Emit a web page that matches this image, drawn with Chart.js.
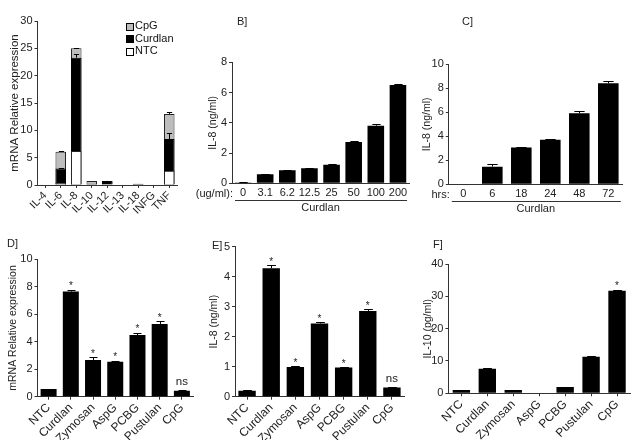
<!DOCTYPE html>
<html>
<head>
<meta charset="utf-8">
<script src="https://cdn.jsdelivr.net/npm/chart.js@4.4.1/dist/chart.umd.min.js"></script>
<style>
  body { margin: 0; background: #fff; }
  #wrap { position: relative; width: 638px; height: 440px; overflow: hidden; background: #fff; }
  canvas { position: absolute; }
</style>
</head>
<body>
<div id="wrap">
  <canvas id="chartA" width="190" height="225" style="left:0px;top:0px"></canvas>
  <canvas id="chartB" width="230" height="225" style="left:185px;top:0px"></canvas>
  <canvas id="chartC" width="223" height="225" style="left:415px;top:0px"></canvas>
  <canvas id="chartD" width="210" height="215" style="left:0px;top:225px"></canvas>
  <canvas id="chartE" width="220" height="215" style="left:205px;top:225px"></canvas>
  <canvas id="chartF" width="220" height="215" style="left:418px;top:225px"></canvas>
</div>
<script>
// ---- data ----
// A] cytokine mRNA, overlapping bars (NTC in front, CpG behind)
const cytokines = ['IL-4', 'IL-6', 'IL-8', 'IL-10', 'IL-12', 'IL-13', 'IL-18', 'INFG', 'TNF'];
const mrnaCpG = [0, 6.1, 25.0, 0.75, 0.7, 0, 0.2, 0, 13.0];
const mrnaCpGErr = [0, 0.2, 0.15, 0, 0, 0, 0, 0, 0.3];
const mrnaCurdlan = [0, 3.0, 23.3, 0.25, 0.75, 0, 0.25, 0, 8.4];
const mrnaCurdlanErr = [0, 0.2, 0.6, 0, 0.05, 0, 0, 0, 1.2];
const mrnaNTC = [0, 0.4, 6.2, 0.1, 0.1, 0, 0.05, 0, 2.6];

// B] IL-8 vs curdlan dose
const doses = ['0', '3.1', '6.2', '12.5', '25', '50', '100', '200'];
const il8Dose = [0.05, 0.6, 0.86, 0.99, 1.23, 2.73, 3.81, 6.5];
const il8DoseErr = [0.02, 0.03, 0.03, 0.04, 0.04, 0.06, 0.1, 0.05];

// C] IL-8 vs time
const hours = ['0', '6', '18', '24', '48', '72'];
const il8Time = [0, 1.47, 3.06, 3.72, 5.92, 8.42];
const il8TimeErr = [0, 0.2, 0.08, 0.05, 0.22, 0.16];

// D-F] stimuli
const stimuli = ['NTC', 'Curdlan', 'Zymosan', 'AspG', 'PCBG', 'Pustulan', 'CpG'];
const mrnaStim = [0.56, 7.65, 2.67, 2.55, 4.49, 5.29, 0.44];
const mrnaStimErr = [0.03, 0.15, 0.19, 0.05, 0.17, 0.21, 0.03];
const mrnaStimSig = ['', '*', '*', '*', '*', '*', 'ns'];
const il8Stim = [0.2, 4.28, 0.99, 2.44, 0.97, 2.86, 0.31];
const il8StimErr = [0.01, 0.11, 0.02, 0.05, 0.02, 0.06, 0.01];
const il8StimSig = ['', '*', '*', '*', '*', '*', 'ns'];
const il10Stim = [1.0, 7.6, 1.0, 0, 1.96, 11.3, 31.75];
const il10StimErr = [0.05, 0.2, 0.05, 0, 0.05, 0.2, 0.25];
const il10StimSig = ['', '', '', '', '', '', '*'];

const FONT = 'Arial, "Liberation Sans", sans-serif';
const AXIS = '#333';
Chart.defaults.font.family = FONT;
Chart.defaults.color = '#222';
Chart.defaults.animation = false;
Chart.defaults.plugins.legend.display = false;
Chart.defaults.plugins.tooltip.enabled = false;

// error bars + significance marks, drawn from the y scale
const errorBars = {
  id: 'errorBars',
  afterDatasetsDraw(chart) {
    const ctx = chart.ctx, ys = chart.scales.y;
    chart.data.datasets.forEach((ds, i) => {
      const meta = chart.getDatasetMeta(i);
      meta.data.forEach((bar, j) => {
        let top = bar.y;
        const e = ds.err ? ds.err[j] : 0;
        if (e) {
          top = ys.getPixelForValue(ds.data[j] + e);
          const x = Math.round(bar.x) + 0.5;
          const w = bar.width * 0.25;
          ctx.save();
          ctx.strokeStyle = '#000';
          ctx.lineWidth = 1;
          ctx.beginPath();
          ctx.moveTo(x, bar.y);
          ctx.lineTo(x, Math.round(top) + 0.5);
          ctx.moveTo(x - w, Math.round(top) + 0.5);
          ctx.lineTo(x + w, Math.round(top) + 0.5);
          ctx.stroke();
          ctx.restore();
        }
        const s = ds.sig ? ds.sig[j] : '';
        if (s) {
          ctx.save();
          ctx.fillStyle = '#222';
          ctx.textAlign = 'center';
          ctx.textBaseline = 'alphabetic';
          if (s === '*') {
            ctx.font = '10px ' + FONT;
            ctx.fillText(s, bar.x, top - 0.5);
          } else {
            ctx.font = '11.5px ' + FONT;
            ctx.fillText(s, bar.x, top - 5);
          }
          ctx.restore();
        }
      });
    });
  }
};

// panel letters, unit prefix, bracket line, inset legend
const extras = {
  id: 'extras',
  afterDraw(chart, args, opts) {
    const ctx = chart.ctx, area = chart.chartArea;
    ctx.save();
    ctx.fillStyle = '#222';
    ctx.strokeStyle = '#333';
    if (opts.panel) {
      ctx.font = '11px ' + FONT;
      ctx.textAlign = 'left';
      ctx.textBaseline = 'middle';
      ctx.fillText(opts.panel.text, opts.panel.x, opts.panel.y);
    }
    if (opts.unit) {
      ctx.font = '11px ' + FONT;
      ctx.textAlign = 'right';
      ctx.textBaseline = 'middle';
      ctx.fillText(opts.unit, area.left + 1, area.bottom + 10.5);
    }
    if (opts.bracket) {
      ctx.lineWidth = 1;
      ctx.beginPath();
      const y = Math.round(area.bottom + 16.5) + 0.5;
      ctx.moveTo(area.left + 3, y);
      ctx.lineTo(area.right - 2, y);
      ctx.stroke();
    }
    if (opts.legend) {
      ctx.font = '11px ' + FONT;
      ctx.textAlign = 'left';
      ctx.textBaseline = 'middle';
      chart.data.datasets.forEach((ds, k) => {
        const y = opts.legend.y + k * 12.5;
        ctx.fillStyle = ds.backgroundColor;
        ctx.fillRect(opts.legend.x + 0.5, Math.round(y - 3.5) + 0.5, 7, 7);
        ctx.strokeStyle = '#000';
        ctx.strokeRect(opts.legend.x + 0.5, Math.round(y - 3.5) + 0.5, 7, 7);
        ctx.fillStyle = '#111';
        ctx.fillText(ds.label, opts.legend.x + 9, y);
      });
    }
    ctx.restore();
  }
};

function makePanel(id, cfg) {
  const box = cfg.box;
  return new Chart(document.getElementById(id), {
    type: 'bar',
    data: { labels: cfg.labels, datasets: cfg.datasets },
    plugins: [errorBars, extras],
    options: {
      responsive: false,
      devicePixelRatio: 1,
      layout: { padding: box.pad },
      datasets: { bar: { categoryPercentage: 1, barPercentage: cfg.barPct, grouped: false } },
      scales: {
        x: {
          offset: true,
          ticks: {
            autoSkip: false, minRotation: cfg.rot, maxRotation: cfg.rot,
            font: { size: cfg.xFont || 11 }, padding: cfg.rot ? 1 : 3, color: '#222'
          },
          grid: { drawOnChartArea: false, drawTicks: !!cfg.rot, tickLength: 3, offset: false, color: AXIS },
          border: { color: AXIS, width: 1 },
          title: cfg.xTitle
            ? { display: true, text: cfg.xTitle, font: { size: 11 }, padding: 0, color: '#222' }
            : { display: false },
          afterFit: s => { s.height = box.xh; s.paddingLeft = 0; s.paddingRight = 0; }
        },
        y: {
          min: 0, max: cfg.max,
          ticks: { stepSize: cfg.step, font: { size: 11 }, padding: 2, color: '#222' },
          grid: { drawOnChartArea: false, tickLength: 3, color: AXIS },
          border: { color: AXIS, width: 1 },
          title: { display: true, text: cfg.yTitle, font: { size: cfg.yTitleSize || 10.5 }, padding: 0, color: '#222' },
          afterFit: s => { s.width = box.yw; s.paddingTop = 0; s.paddingBottom = 0; }
        }
      },
      plugins: { extras: cfg.extras || {} }
    }
  });
}

function blackBars(values, errs, sig) {
  return [{ data: values, err: errs, sig: sig, backgroundColor: '#000', borderWidth: 0 }];
}

makePanel('chartA', {
  labels: cytokines,
  datasets: [
    { label: 'CpG', data: mrnaCpG, err: mrnaCpGErr, order: 2, backgroundColor: '#bdbdbd', borderColor: '#222', borderWidth: 1 },
    { label: 'Curdlan', data: mrnaCurdlan, err: mrnaCurdlanErr, order: 1, backgroundColor: '#000', borderColor: '#000', borderWidth: 1 },
    { label: 'NTC', data: mrnaNTC, order: 0, backgroundColor: '#fff', borderColor: '#222', borderWidth: 1 }
  ],
  barPct: 0.68, rot: 45, xFont: 11, max: 30, step: 5,
  yTitle: 'mRNA Relative expression', yTitleSize: 11.5,
  box: { yw: 29.4, xh: 40, pad: { left: 8.1, right: 13, top: 21, bottom: 0 } },
  extras: { legend: { x: 126, y: 26 } }
});

makePanel('chartB', {
  labels: doses,
  datasets: blackBars(il8Dose, il8DoseErr),
  barPct: 0.75, rot: 0, max: 8, step: 2,
  yTitle: 'IL-8 (ng/ml)', xTitle: 'Curdlan',
  box: { yw: 25.3, xh: 31.5, pad: { left: 21.7, right: 6, top: 62.3, bottom: 10.2 } },
  extras: { panel: { text: 'B]', x: 52, y: 22 }, unit: '(ug/ml):', bracket: true }
});

makePanel('chartC', {
  labels: hours,
  datasets: blackBars(il8Time, il8TimeErr),
  barPct: 0.71, rot: 0, max: 10, step: 2,
  yTitle: 'IL-8 (ng/ml)', xTitle: 'Curdlan',
  box: { yw: 28.1, xh: 31, pad: { left: 5.7, right: 15.2, top: 64.3, bottom: 9.7 } },
  extras: { panel: { text: 'C]', x: 47, y: 22 }, unit: 'hrs:', bracket: true }
});

makePanel('chartD', {
  labels: stimuli,
  datasets: blackBars(mrnaStim, mrnaStimErr, mrnaStimSig),
  barPct: 0.72, rot: 45, xFont: 12, max: 10, step: 2,
  yTitle: 'mRNA Relative expression',
  box: { yw: 30.8, xh: 43.3, pad: { left: 6.7, right: 17, top: 34.3, bottom: 0 } },
  extras: { panel: { text: 'D]', x: 7, y: 18.5 } }
});

makePanel('chartE', {
  labels: stimuli,
  datasets: blackBars(il8Stim, il8StimErr, il8StimSig),
  barPct: 0.72, rot: 45, xFont: 12, max: 5, step: 1,
  yTitle: 'IL-8 (ng/ml)',
  box: { yw: 27.3, xh: 43.3, pad: { left: 2.7, right: 21, top: 21.7, bottom: 0 } },
  extras: { panel: { text: 'E]', x: 7, y: 21 } }
});

makePanel('chartF', {
  labels: stimuli,
  datasets: blackBars(il10Stim, il10StimErr, il10StimSig),
  barPct: 0.67, rot: 45, xFont: 12, max: 40, step: 10,
  yTitle: 'IL-10 (pg/ml)',
  box: { yw: 26.7, xh: 46.7, pad: { left: 3.7, right: 8, top: 39, bottom: 0 } },
  extras: { panel: { text: 'F]', x: 15, y: 20 } }
});
</script>
</body>
</html>
